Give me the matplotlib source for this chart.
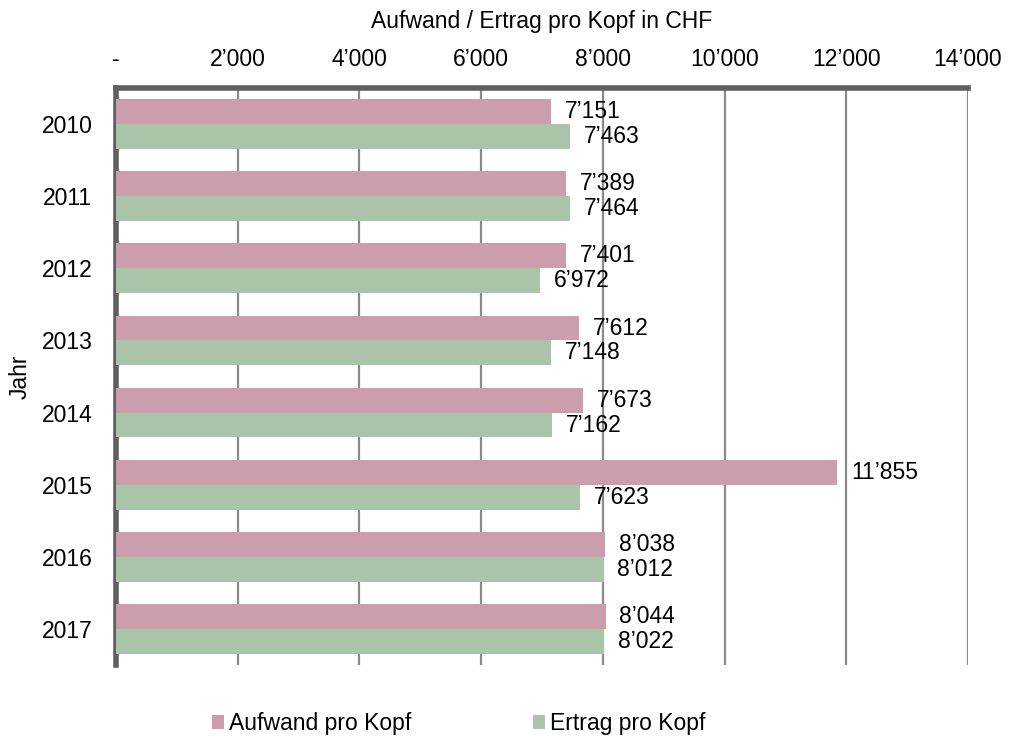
import matplotlib.pyplot as plt
import numpy as np
from matplotlib.ticker import FuncFormatter

plt.rcParams["font.family"] = ["Liberation Sans", "DejaVu Sans"]

years = ["2010", "2011", "2012", "2013", "2014", "2015", "2016", "2017"]
aufwand = [7151, 7389, 7401, 7612, 7673, 11855, 8038, 8044]
ertrag = [7463, 7464, 6972, 7148, 7162, 7623, 8012, 8022]

PINK = "#cc9eab"
GREEN = "#a9c4a9"
SPINE = "#5f5f5f"
FS = 16.5


def chf(v, pos=None):
    if v == 0:
        return "-"
    return f"{int(round(v)):,}".replace(",", "\u2019")


fig = plt.figure(figsize=(10.12, 7.36), dpi=100)
ax = fig.add_axes([0.1146, 0.0965, 0.8419, 0.7839])

y = np.arange(len(years))
h = 0.345
b1 = ax.barh(y - h / 2, aufwand, height=h, color=PINK, label="Aufwand pro Kopf", zorder=3)
b2 = ax.barh(y + h / 2, ertrag, height=h, color=GREEN, label="Ertrag pro Kopf", zorder=3)

for bars, vals in ((b1, aufwand), (b2, ertrag)):
    for bar, v in zip(bars, vals):
        ax.annotate(chf(v), (v, bar.get_y() + bar.get_height() / 2),
                    xytext=(10, 0), textcoords="offset points",
                    ha="left", va="center", fontsize=FS, zorder=4)

ax.set_xlim(0, 14000)
ax.set_ylim(len(years) - 0.5, -0.5)
ax.set_xticks(np.arange(0, 14001, 2000))
ax.xaxis.set_major_formatter(FuncFormatter(chf))
ax.xaxis.tick_top()
ax.xaxis.set_label_position("top")
ax.set_xlabel("Aufwand / Ertrag pro Kopf in CHF", fontsize=FS, labelpad=14.5)
ax.set_yticks(y)
ax.set_yticklabels(years)
ax.set_ylabel("Jahr", fontsize=FS, labelpad=7)
ax.tick_params(axis="x", length=0, labelsize=FS, pad=12)
ax.tick_params(axis="y", length=0, labelsize=FS, pad=17)

ax.grid(axis="x", color="#8a8a8a", linewidth=1.6, zorder=1)
ax.set_axisbelow(True)
for side in ("right", "bottom"):
    ax.spines[side].set_visible(False)
for side in ("top", "left"):
    ax.spines[side].set_color(SPINE)
    ax.spines[side].set_linewidth(4)

fig.legend(handles=[b1, b2], loc="lower center", bbox_to_anchor=(0.453, -0.027),
           ncol=2, frameon=False, fontsize=FS, handlelength=0.55,
           handleheight=0.55, handletextpad=0.2, columnspacing=5.3)

fig.savefig("out.png", dpi=100)
